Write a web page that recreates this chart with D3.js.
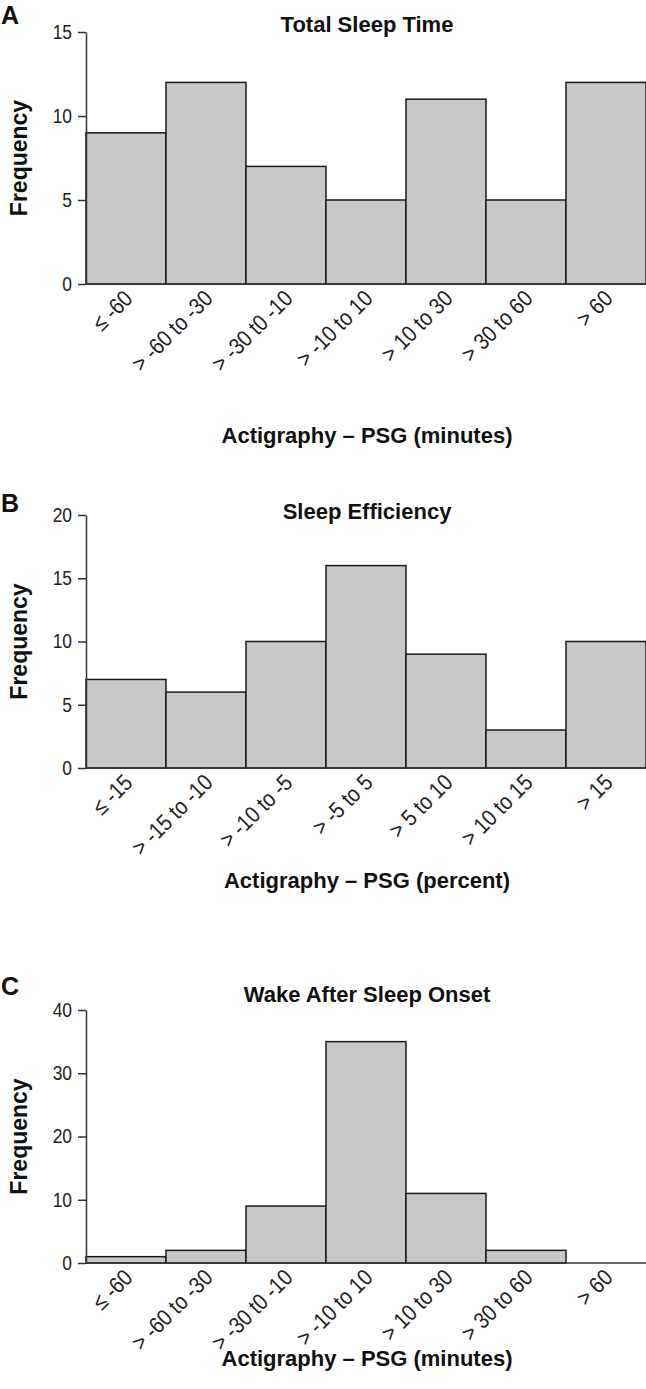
<!DOCTYPE html>
<html>
<head>
<meta charset="utf-8">
<script src="https://cdn.jsdelivr.net/npm/d3@7"></script>
<style>
  body { margin: 0; background: #fff; }
  svg text { font-family: "Liberation Sans", Arial, sans-serif; fill: #111; }
  .bar { fill: #c8c8c8; stroke: #1a1a1a; stroke-width: 1.5; }
  .axisline { stroke: #333; stroke-width: 1.5; fill: none; }
  .tick-label { font-size: 20px; fill: #222; }
  .title { font-size: 22px; font-weight: bold; }
  .ytitle { font-size: 23px; font-weight: bold; }
  .letter { font-size: 25px; font-weight: bold; }
</style>
</head>
<body>
<svg id="chart" width="646" height="1389"></svg>
<script>
// categories
var minuteBins = ["\u2264 -60", "> -60 to -30", "> -30 t0 -10", "> -10 to 10", "> 10 to 30", "> 30 to 60", "> 60"];
var percentBins = ["\u2264 -15", "> -15 to -10", "> -10 to -5", "> -5 to 5", "> 5 to 10", "> 10 to 15", "> 15"];

// frequencies
var tstCounts = [9, 12, 7, 5, 11, 5, 12];
var seCounts = [7, 6, 10, 16, 9, 3, 10];
var wasoCounts = [1, 2, 9, 35, 11, 2, 0];

// y ticks
var tstTicks = [0, 5, 10, 15];
var seTicks = [0, 5, 10, 15, 20];
var wasoTicks = [0, 10, 20, 30, 40];

var svg = d3.select("#chart");

// y axis x position and right end of the bars
var left = 86, right = 646;
// squeeze for the condensed look of the tick labels
var narrow = 0.87;

function drawPanel(opts) {
    var g = svg.append("g");

    var x = d3.scaleBand()
        .domain(opts.cats)
        .range([left, right])
        .padding(0);

    var y = d3.scaleLinear()
        .domain([0, d3.max(opts.ticks)])
        .range([opts.base, opts.top]);

    // panel letter
    g.append("text")
        .attr("class", "letter")
        .attr("x", 1)
        .attr("y", opts.letterY)
        .text(opts.letter);

    // title
    g.append("text")
        .attr("class", "title")
        .attr("x", 367)
        .attr("y", opts.titleY)
        .attr("text-anchor", "middle")
        .text(opts.title);

    // bars
    g.selectAll("rect.bar")
        .data(opts.values.map(function (v, i) { return { cat: opts.cats[i], v: v }; })
            .filter(function (d) { return d.v > 0; }))
        .enter().append("rect")
        .attr("class", "bar")
        .attr("x", function (d) { return x(d.cat); })
        .attr("width", x.bandwidth())
        .attr("y", function (d) { return y(d.v); })
        .attr("height", function (d) { return y(0) - y(d.v); });

    // y axis
    var yAxis = d3.axisLeft(y)
        .tickValues(opts.ticks)
        .tickSize(8)
        .tickSizeOuter(0)
        .tickPadding(6);
    var ya = g.append("g")
        .attr("transform", "translate(" + left + ",0)")
        .call(yAxis)
        .attr("font-family", null)
        .attr("font-size", null);
    ya.select(".domain").attr("class", "domain axisline");
    ya.selectAll(".tick line").attr("class", "axisline");
    ya.selectAll(".tick text")
        .attr("class", "tick-label")
        .attr("fill", null)
        .attr("x", 0)
        .attr("transform", "translate(-14,0) scale(" + narrow + ",1)");

    // x axis baseline
    g.append("line")
        .attr("class", "axisline")
        .attr("x1", left)
        .attr("x2", right)
        .attr("y1", y(0))
        .attr("y2", y(0));

    // rotated category labels
    g.selectAll("text.xlab")
        .data(opts.cats)
        .enter().append("text")
        .attr("class", "tick-label xlab")
        .attr("text-anchor", "end")
        .style("font-size", "23px")
        .attr("transform", function (d) {
            return "translate(" + (x(d) + x.bandwidth() / 2 + 8) + "," + (y(0) + 16) + ") rotate(-45) scale(" + narrow + ",1)";
        })
        .text(function (d) { return d; });

    // y title
    g.append("text")
        .attr("class", "ytitle")
        .attr("transform", "translate(27," + ((opts.base + opts.top) / 2) + ") rotate(-90)")
        .attr("text-anchor", "middle")
        .text("Frequency");

    // x title
    g.append("text")
        .attr("class", "title")
        .attr("x", 367)
        .attr("y", opts.xTitleY)
        .attr("text-anchor", "middle")
        .text(opts.xTitle);
}

drawPanel({
    letter: "A", letterY: 24, title: "Total Sleep Time", titleY: 32,
    cats: minuteBins, values: tstCounts, ticks: tstTicks,
    top: 32, base: 284, xTitle: "Actigraphy \u2013 PSG (minutes)", xTitleY: 443
});

drawPanel({
    letter: "B", letterY: 512, title: "Sleep Efficiency", titleY: 519,
    cats: percentBins, values: seCounts, ticks: seTicks,
    top: 515, base: 768, xTitle: "Actigraphy \u2013 PSG (percent)", xTitleY: 888
});

drawPanel({
    letter: "C", letterY: 995, title: "Wake After Sleep Onset", titleY: 1002,
    cats: minuteBins, values: wasoCounts, ticks: wasoTicks,
    top: 1010, base: 1263, xTitle: "Actigraphy \u2013 PSG (minutes)", xTitleY: 1366
});
</script>
</body>
</html>
